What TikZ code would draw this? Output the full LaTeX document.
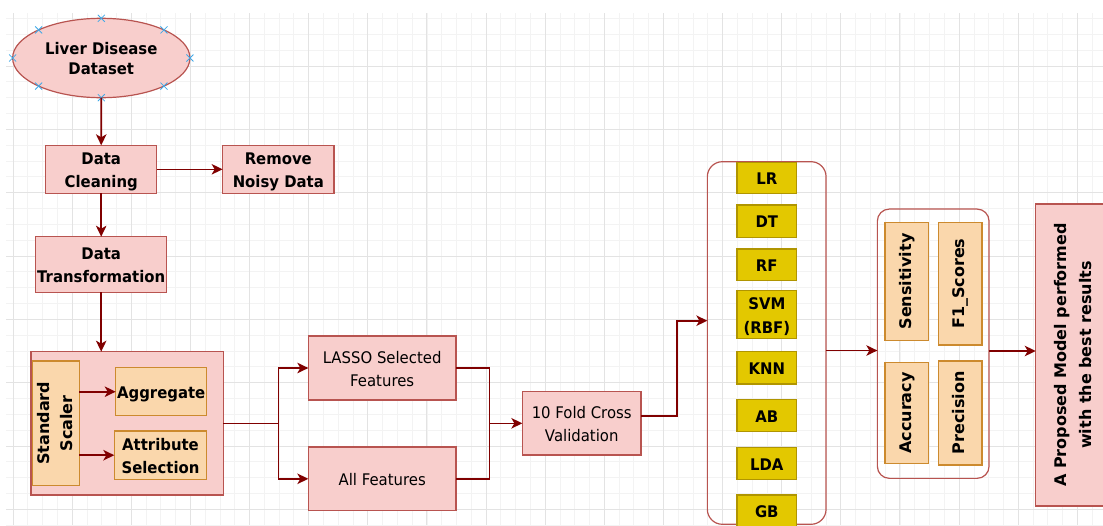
\documentclass[tikz,border=0pt]{standalone}
\usepackage{fontspec}
\setmainfont{DejaVu Sans}[FakeStretch=0.93]
\newfontfamily\rotfont{DejaVu Sans}
\usetikzlibrary{arrows.meta,shapes.geometric}

\definecolor{pinkfill}{HTML}{F8CECC}
\definecolor{pinkline}{HTML}{B85450}
\definecolor{orangefill}{HTML}{FAD7AC}
\definecolor{orangeline}{HTML}{CC8A2E}
\definecolor{yellowfill}{HTML}{E3C800}
\definecolor{yellowline}{HTML}{B09500}
\definecolor{arrowred}{HTML}{800000}
\definecolor{gridmajor}{HTML}{E3E3E3}
\definecolor{gridminor}{HTML}{F3F3F3}
\definecolor{marker}{HTML}{3FA9E8}

% centred lines with fixed struts, set slightly low in their box
\newcommand\lines[1]{\raisebox{-2pt}[\height][\depth]{\begin{tabular}{@{}c@{}}#1\end{tabular}}}
% lines reading bottom to top
\newcommand\uplines[1]{\rotatebox{90}{\rotfont\bfseries\begin{tabular}{@{}c@{}}#1\end{tabular}}}

\tikzset{
  base/.style={inner sep=0pt, outer sep=0pt, line width=1.2pt,
               font=\fontsize{16}{23.5}\selectfont\bfseries},
  regular/.style={font=\fontsize{16}{23.3}\selectfont},
  pinkbox/.style={base, draw=pinkline, fill=pinkfill},
  orangebox/.style={base, draw=orangeline, fill=orangefill},
  modelbox/.style={base, draw=yellowline, fill=yellowfill},
  group/.style={base, draw=pinkline, rounded corners=#1},
  wire/.style={draw=arrowred, line width=1.6pt},
  arr/.style={wire, -{Stealth[length=11pt,width=10.5pt,inset=3pt]}},
  xmark/.style={draw=marker, line width=0.8pt},
  gmin/.style={draw=gridminor, line width=0.8pt},
  gmaj/.style={draw=gridmajor, line width=1pt},
}

\begin{document}
\begin{tikzpicture}[x=1pt, y=-1pt]
\useasboundingbox (0,0) rectangle (1103,525);
\clip (0,0) rectangle (1103,525);

% background grid
\begin{scope}
  \clip (6,13) rectangle (1103,525);
  \foreach \i in {0,...,74} \draw[gmin] ({13+14.783*\i},13) -- ++(0,512);
  \foreach \j in {1,...,33} \draw[gmin] (6,{2.667+15.833*\j}) -- ++(1097,0);
  \foreach \i in {0,...,18} \draw[gmaj] ({13+59.13*\i},13) -- ++(0,512);
  \foreach \j in {1,...,8} \draw[gmaj] (6,{2.667+63.333*\j}) -- ++(1097,0);
\end{scope}

% preprocessing chain
\node[pinkbox, ellipse, minimum width=177.3pt, minimum height=79.4pt,
      font=\fontsize{16}{20}\selectfont\bfseries] (ds) at (101.3,58) {\lines{Liver Disease\\Dataset}};
\node[pinkbox, minimum width=111pt, minimum height=48pt] (clean) at (101.2,169.3) {\lines{Data\\Cleaning}};
\node[pinkbox, minimum width=111.3pt, minimum height=48pt] (noisy) at (278.3,169.3) {\lines{Remove\\Noisy Data}};
\node[pinkbox, minimum width=131pt, minimum height=55.6pt] (trans) at (101.2,264.5) {\lines{Data\\Transformation}};

\node[pinkbox, minimum width=192.3pt, minimum height=143.3pt] (prep) at (127.2,423.3) {};
\node[orangebox, minimum width=44.6pt, minimum height=124.7pt,
      font=\fontsize{16}{23.3}\selectfont] (scaler) at (56,423.3) {\uplines{Standard\\Scaler}};
\node[orangebox, minimum width=91pt, minimum height=48pt] (aggr) at (161.2,391.7) {\lines{Aggregate}};
\node[orangebox, minimum width=92.4pt, minimum height=48.3pt] (attr) at (160.5,455.2) {\lines{Attribute\\Selection}};

% feature sets and validation
\node[pinkbox, regular, minimum width=147.7pt, minimum height=64pt] (lasso) at (382.2,368) {\lines{LASSO Selected\\Features}};
\node[pinkbox, regular, minimum width=147.7pt, minimum height=63.7pt] (allf) at (382.2,478.8) {\lines{All Features}};
\node[pinkbox, regular, minimum width=118.7pt, minimum height=63.3pt] (cv) at (581.7,423.3) {\lines{10 Fold Cross\\Validation}};

% classifiers
\node[group=15pt, minimum width=118.7pt, minimum height=362.6pt] (models) at (766.7,343) {};
\node[modelbox, minimum width=59.7pt, minimum height=30.6pt] (lr)  at (766.8,178)   {\lines{LR}};
\node[modelbox, minimum width=59.7pt, minimum height=32.3pt] (dt)  at (766.8,221.2) {\lines{DT}};
\node[modelbox, minimum width=59.7pt, minimum height=31.7pt] (rf)  at (766.8,264.8) {\lines{RF}};
\node[modelbox, minimum width=59.7pt, minimum height=43.7pt,
      font=\fontsize{16}{24}\selectfont\bfseries] (svm) at (766.8,314.2) {\lines{SVM\\(RBF)}};
\node[modelbox, minimum width=59.7pt, minimum height=32.3pt] (knn) at (766.8,367.8) {\lines{KNN}};
\node[modelbox, minimum width=59.7pt, minimum height=32.4pt] (ab)  at (766.8,415.5) {\lines{AB}};
\node[modelbox, minimum width=59.7pt, minimum height=32pt]   (lda) at (766.8,463.3) {\lines{LDA}};
\node[modelbox, minimum width=59.7pt, minimum height=32pt]   (gb)  at (766.8,511)   {\lines{GB}};

% evaluation metrics
\node[group=12pt, minimum width=111.7pt, minimum height=269.3pt] (metrics) at (933.2,343.7) {};
\node[orangebox, minimum width=43.3pt, minimum height=118.4pt] (sens) at (906.7,281.5) {\uplines{Sensitivity}};
\node[orangebox, minimum width=43.7pt, minimum height=122.7pt] (f1)   at (960.2,283.7) {\uplines{F1\_Scores}};
\node[orangebox, minimum width=43.3pt, minimum height=100.6pt] (acc)  at (906.7,413)   {\uplines{Accuracy}};
\node[orangebox, minimum width=43.7pt, minimum height=104pt]   (prec) at (960.2,413)   {\uplines{Precision}};

% outcome
\node[pinkbox, minimum width=76.3pt, minimum height=302pt,
      font=\fontsize{16}{25}\selectfont] (final) at (1073.9,355) {\uplines{A Proposed Model performed\\with the best results}};

% connection points on the dataset ellipse
\foreach \a in {north,south,east,west,north east,north west,south east,south west}
  \draw[xmark] (ds.\a) ++(-3.5,-3.5) -- ++(7,7) ++(-7,0) -- ++(7,-7);

% connectors
\draw[arr] (ds.south) -- (clean.north);
\draw[arr] (clean.east) -- (noisy.west);
\draw[arr] (clean.south) -- (trans.north);
\draw[arr] (trans.south) -- (trans.south |- prep.north);
\draw[arr] (scaler.east |- aggr.west) -- (aggr.west);
\draw[arr] (scaler.east |- attr.west) -- (attr.west);

\coordinate (split) at (278.3,423.3);
\draw[wire] (prep.east) -- (split);
\draw[arr] (split) |- (lasso.west);
\draw[arr] (split) |- (allf.west);

\coordinate (join) at (489.3,423.3);
\draw[wire] (lasso.east) -| (join) |- (allf.east);
\draw[arr] (join) -- (cv.west);

\draw[arr] ([yshift=7.6pt]cv.east) -- ++(36,0) |- ([yshift=22.3pt]models.west);
\draw[arr] ([yshift=-7.5pt]models.east) -- ([yshift=-7.5pt]models.east -| metrics.west);
\draw[arr] ([yshift=-7.3pt]metrics.east) -- ([yshift=-7.3pt]metrics.east -| final.west);
\end{tikzpicture}
\end{document}
